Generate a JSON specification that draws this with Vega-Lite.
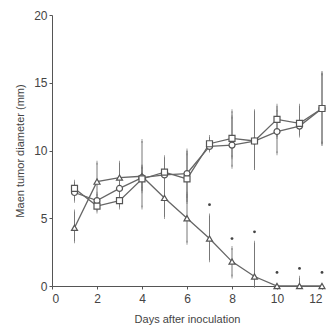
{
  "$schema": "https://vega.github.io/schema/vega-lite/v6.json",
  "width": 270,
  "height": 271,
  "autosize": {"type": "none"},
  "padding": {"left": 52, "top": 15, "right": 8, "bottom": 43},
  "background": "white",
  "config": {
    "view": {"stroke": null},
    "axis": {"grid": false, "domainColor": "#555", "tickColor": "#555", "labelColor": "#444", "titleColor": "#444", "labelFont": "Liberation Sans", "titleFont": "Liberation Sans", "labelFontSize": 12, "titleFontSize": 11, "titleFontWeight": "normal"}
  },
  "datasets": {
    "main": [
      {"day": 1, "group": "tri", "mean": 4.3, "lo": 3.3, "hi": 5.5},
      {"day": 2, "group": "tri", "mean": 7.7, "lo": 6.3, "hi": 9.1},
      {"day": 3, "group": "tri", "mean": 8.0, "lo": 6.9, "hi": 9.1},
      {"day": 4, "group": "tri", "mean": 8.1, "lo": 5.8, "hi": 10.7},
      {"day": 5, "group": "tri", "mean": 6.5, "lo": 5.1, "hi": 8.0},
      {"day": 6, "group": "tri", "mean": 5.0, "lo": 3.2, "hi": 6.8},
      {"day": 7, "group": "tri", "mean": 3.5, "lo": 1.9, "hi": 5.2},
      {"day": 8, "group": "tri", "mean": 1.8, "lo": 0.7, "hi": 2.8},
      {"day": 9, "group": "tri", "mean": 0.7, "lo": 0.0, "hi": 3.2},
      {"day": 10, "group": "tri", "mean": 0.0, "lo": 0.0, "hi": 0.0},
      {"day": 11, "group": "tri", "mean": 0.0, "lo": 0.0, "hi": 0.6},
      {"day": 12, "group": "tri", "mean": 0.0, "lo": 0.0, "hi": 0.0},
      {"day": 1, "group": "circ", "mean": 6.9, "lo": 6.3, "hi": 7.5},
      {"day": 2, "group": "circ", "mean": 6.3, "lo": 5.8, "hi": 6.8},
      {"day": 3, "group": "circ", "mean": 7.2, "lo": 6.5, "hi": 8.0},
      {"day": 4, "group": "circ", "mean": 8.0, "lo": 7.2, "hi": 8.8},
      {"day": 5, "group": "circ", "mean": 8.2, "lo": 7.0, "hi": 9.5},
      {"day": 6, "group": "circ", "mean": 8.3, "lo": 6.5, "hi": 10.0},
      {"day": 7, "group": "circ", "mean": 10.3, "lo": 10.0, "hi": 10.8},
      {"day": 8, "group": "circ", "mean": 10.4, "lo": 8.8, "hi": 12.5},
      {"day": 9, "group": "circ", "mean": 10.7, "lo": 8.7, "hi": 12.8},
      {"day": 10, "group": "circ", "mean": 11.4, "lo": 9.8, "hi": 13.0},
      {"day": 11, "group": "circ", "mean": 11.8, "lo": 11.1, "hi": 12.6},
      {"day": 12, "group": "circ", "mean": 13.1, "lo": 10.5, "hi": 15.7},
      {"day": 1, "group": "sq", "mean": 7.2, "lo": 6.8, "hi": 7.7},
      {"day": 2, "group": "sq", "mean": 5.9, "lo": 5.5, "hi": 6.4},
      {"day": 3, "group": "sq", "mean": 6.3, "lo": 5.8, "hi": 6.8},
      {"day": 4, "group": "sq", "mean": 7.9, "lo": 7.0, "hi": 8.8},
      {"day": 5, "group": "sq", "mean": 8.4, "lo": 7.5, "hi": 9.3},
      {"day": 6, "group": "sq", "mean": 7.9, "lo": 6.2, "hi": 9.8},
      {"day": 7, "group": "sq", "mean": 10.5, "lo": 10.1, "hi": 11.0},
      {"day": 8, "group": "sq", "mean": 10.9, "lo": 9.5, "hi": 12.9},
      {"day": 9, "group": "sq", "mean": 10.7, "lo": 8.7, "hi": 12.9},
      {"day": 10, "group": "sq", "mean": 12.3, "lo": 11.0, "hi": 13.3},
      {"day": 11, "group": "sq", "mean": 12.0, "lo": 11.3, "hi": 13.3},
      {"day": 12, "group": "sq", "mean": 13.1, "lo": 10.5, "hi": 15.7}
    ],
    "stars": [
      {"day": 7, "y": 6.0},
      {"day": 8, "y": 3.5},
      {"day": 9, "y": 4.0},
      {"day": 10, "y": 1.0},
      {"day": 11, "y": 1.3},
      {"day": 12, "y": 1.0}
    ]
  },
  "layer": [
    {
      "data": {"name": "main"},
      "mark": {"type": "rule", "color": "#777", "strokeWidth": 1},
      "encoding": {
        "x": {"field": "day", "type": "quantitative", "scale": {"domain": [0, 12]}, "axis": {"values": [0, 2, 4, 6, 8, 10, 12], "title": "Days after inoculation", "tickSize": 3, "labelPadding": 4, "titlePadding": 9}},
        "y": {"field": "lo", "type": "quantitative", "scale": {"domain": [0, 20]}, "axis": {"values": [0, 5, 10, 15, 20], "title": "Maen tumor diameter (mm)", "tickSize": 3, "labelPadding": 2, "titlePadding": 8}},
        "y2": {"field": "hi"}
      }
    },
    {
      "data": {"name": "main"},
      "mark": {"type": "tick", "color": "#777", "size": 4, "thickness": 1},
      "encoding": {"x": {"field": "day", "type": "quantitative"}, "y": {"field": "hi", "type": "quantitative"}}
    },
    {
      "data": {"name": "main"},
      "mark": {"type": "tick", "color": "#777", "size": 4, "thickness": 1},
      "encoding": {"x": {"field": "day", "type": "quantitative"}, "y": {"field": "lo", "type": "quantitative"}}
    },
    {
      "data": {"name": "main"},
      "mark": {"type": "line", "color": "#666", "strokeWidth": 1.3},
      "encoding": {
        "x": {"field": "day", "type": "quantitative"},
        "y": {"field": "mean", "type": "quantitative"},
        "detail": {"field": "group"}
      }
    },
    {
      "data": {"name": "main"},
      "mark": {"type": "point", "filled": true, "fill": "white", "stroke": "#555", "strokeWidth": 1.2, "size": 36, "opacity": 1},
      "encoding": {
        "x": {"field": "day", "type": "quantitative"},
        "y": {"field": "mean", "type": "quantitative"},
        "shape": {"field": "group", "type": "nominal", "scale": {"domain": ["tri", "circ", "sq"], "range": ["triangle-up", "circle", "square"]}, "legend": null}
      }
    },
    {
      "data": {"name": "stars"},
      "mark": {"type": "point", "filled": true, "color": "#444", "size": 8, "opacity": 1},
      "encoding": {
        "x": {"field": "day", "type": "quantitative"},
        "y": {"field": "y", "type": "quantitative"}
      }
    }
  ]
}
